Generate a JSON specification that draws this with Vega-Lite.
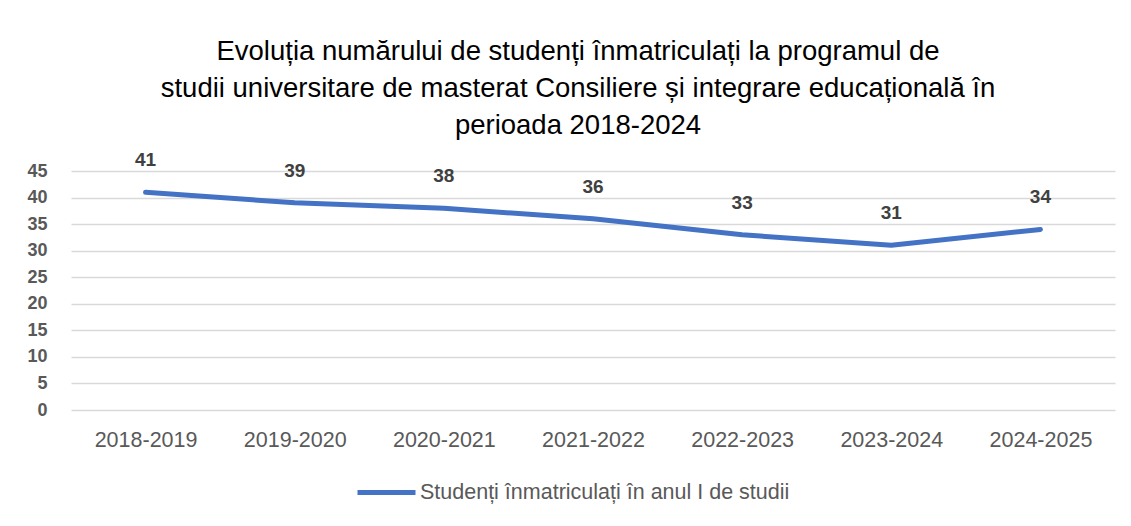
{
  "$schema": "https://vega.github.io/schema/vega-lite/v6.json",
  "autosize": {"type": "none"},
  "width": 1044,
  "height": 239,
  "padding": {"left": 71, "top": 171, "right": 16, "bottom": 116},
  "background": "white",
  "title": {
    "text": ["Evoluția numărului de studenți înmatriculați la programul de", "studii universitare de masterat Consiliere și integrare educațională în", "perioada 2018-2024"],
    "font": "Liberation Sans",
    "fontSize": 27.5,
    "fontWeight": "normal",
    "color": "#000000",
    "lineHeight": 37,
    "anchor": "middle",
    "frame": "group",
    "dx": -15,
    "offset": 12
  },
  "data": {
    "values": [
      {"an": "2018-2019", "studenti": 41, "serie": "Studenți înmatriculați în anul I de studii"},
      {"an": "2019-2020", "studenti": 39, "serie": "Studenți înmatriculați în anul I de studii"},
      {"an": "2020-2021", "studenti": 38, "serie": "Studenți înmatriculați în anul I de studii"},
      {"an": "2021-2022", "studenti": 36, "serie": "Studenți înmatriculați în anul I de studii"},
      {"an": "2022-2023", "studenti": 33, "serie": "Studenți înmatriculați în anul I de studii"},
      {"an": "2023-2024", "studenti": 31, "serie": "Studenți înmatriculați în anul I de studii"},
      {"an": "2024-2025", "studenti": 34, "serie": "Studenți înmatriculați în anul I de studii"}
    ]
  },
  "encoding": {
    "x": {
      "field": "an",
      "type": "ordinal",
      "sort": null,
      "scale": {"type": "point", "padding": 0.5},
      "axis": {
        "title": null,
        "labelAngle": 0,
        "labelFont": "Liberation Sans",
        "labelFontSize": 21.5,
        "labelColor": "#595959",
        "labelPadding": 19,
        "ticks": false,
        "domain": false,
        "grid": false
      }
    },
    "y": {
      "field": "studenti",
      "type": "quantitative",
      "scale": {"domain": [0, 45]},
      "axis": {
        "title": null,
        "values": [0, 5, 10, 15, 20, 25, 30, 35, 40, 45],
        "labelFont": "Liberation Sans",
        "labelFontSize": 18,
        "labelFontWeight": "bold",
        "labelColor": "#595959",
        "labelPadding": 24,
        "ticks": false,
        "domain": false,
        "grid": true,
        "gridColor": "#D9D9D9",
        "gridWidth": 1.5
      }
    }
  },
  "layer": [
    {
      "mark": {"type": "line", "strokeWidth": 5, "strokeCap": "round", "strokeJoin": "round"},
      "encoding": {
        "color": {
          "field": "serie",
          "type": "nominal",
          "scale": {"range": ["#4472C4"]},
          "legend": {
            "title": null,
            "orient": "none",
            "legendX": 284,
            "legendY": 290,
            "direction": "horizontal",
            "symbolType": "stroke",
            "symbolSize": 3364,
            "symbolStrokeWidth": 5,
            "symbolStrokeColor": "#4472C4",
            "labelFont": "Liberation Sans",
            "labelFontSize": 21.5,
            "labelColor": "#595959",
            "labelLimit": 0,
            "labelOffset": 2
          }
        }
      }
    },
    {
      "mark": {"type": "text", "dy": -32, "font": "Liberation Sans", "fontSize": 19, "fontWeight": "bold", "color": "#404040"},
      "encoding": {
        "text": {"field": "studenti", "type": "quantitative"}
      }
    }
  ],
  "config": {"view": {"stroke": null}}
}
